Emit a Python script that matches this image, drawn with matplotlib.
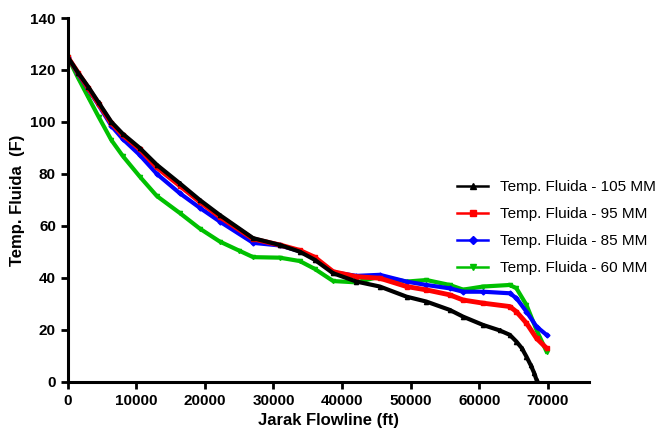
import matplotlib.pyplot as plt

# jarak (ft) dan temperatur fluida (F)
x_105 = [0, 1500, 3000, 4500, 6370, 8000, 10500, 13000, 16330, 19250, 22170,
         27030, 30920, 33830, 36000, 38700, 42100, 45500, 49400, 52300, 55700,
         57650, 60570, 63000, 64460, 65430, 66200, 66890, 67500, 68000, 68350]
t_105 = [125, 119, 113.5, 107.5, 100, 95.5, 90, 83.5, 76.4, 70, 64.2,
         55.3, 52.7, 50.1, 47, 41.8, 38.6, 36.7, 32.8, 30.9, 27.7,
         25.1, 21.9, 19.8, 18.1, 15.5, 13, 9.7, 6.5, 3.5, 0.8]

x_95 = [0, 1500, 3000, 4500, 6370, 8000, 10500, 13000, 16330, 19250, 22170,
        27030, 30920, 33830, 36000, 38700, 42100, 45500, 49400, 52300, 55700,
        57650, 60570, 64460, 65430, 66890, 68350, 69810]
t_95 = [125, 119, 113, 107, 99.5, 95, 89.5, 82.5, 75.5, 69.3, 63.5,
        55, 52.7, 50.6, 48, 42.4, 40.5, 39.9, 36.7, 35.4, 33.5,
        31.5, 30.3, 29, 27, 22.6, 16.8, 13]

x_85 = x_95
t_85 = [125, 118.5, 112.5, 106.5, 98.5, 93.5, 87.3, 80, 72.6, 67, 61.7,
        53.5, 52.5, 50.3, 47.5, 42.2, 40.8, 41.2, 38.6, 37.3, 36,
        34.7, 34.7, 34.1, 32.2, 27, 21.3, 18.1]

x_60 = [0, 1500, 3000, 4500, 6370, 8000, 10500, 13000, 16330, 19250, 22170,
        25000, 27030, 30920, 33830, 36000, 38700, 42100, 45500, 49400, 52300,
        55700, 57650, 60570, 64460, 65430, 66890, 68350, 69810]
t_60 = [125, 117, 109.5, 102, 93, 87, 79, 71.5, 65, 59, 54,
        50.5, 48, 47.8, 46.5, 43.5, 38.8, 38.3, 40.5, 38.6, 39.2,
        37.3, 35.5, 36.7, 37.3, 36, 29.6, 20, 11.7]

fig = plt.figure(figsize=(6.64, 4.34), dpi=100)
ax = fig.add_axes([0.102, 0.12, 0.785, 0.8385])

ax.plot(x_60, t_60, color="#00c000", lw=3, marker="v", ms=3,
        label="Temp. Fluida - 60 MM")
ax.plot(x_85, t_85, color="#0000ff", lw=3, marker="D", ms=2.5,
        label="Temp. Fluida - 85 MM")
ax.plot(x_95, t_95, color="#ff0000", lw=3.5, marker="s", ms=3,
        label="Temp. Fluida - 95 MM")
ax.plot(x_105, t_105, color="black", lw=3, marker="^", ms=3,
        label="Temp. Fluida - 105 MM")

ax.set_xlim(0, 76000)
ax.set_ylim(0, 140)
ax.set_xticks(range(0, 70001, 10000))
ax.set_yticks(range(0, 141, 20))

for s in ["top", "right"]:
    ax.spines[s].set_visible(False)
for s in ["left", "bottom"]:
    ax.spines[s].set_linewidth(2.2)
ax.tick_params(width=2, length=5, labelsize=11)
for lab in ax.get_xticklabels() + ax.get_yticklabels():
    lab.set_fontweight("bold")
    lab.set_family("Liberation Sans")

ax.set_xlabel("Jarak Flowline (ft)", fontsize=12, fontweight="bold",
              family="Liberation Sans")
ax.set_ylabel("Temp. Fluida  (F)", fontsize=12, fontweight="bold",
              family="Liberation Sans")

h, l = ax.get_legend_handles_labels()
leg = fig.legend(h[::-1], l[::-1], loc="upper left", bbox_to_anchor=(0.668, 0.617),
                 frameon=False, prop={"family": "Liberation Sans", "size": 11},
                 handlelength=2.0, labelspacing=0.85)
for line in leg.get_lines():
    line.set_linewidth(1.8)
    line.set_markersize(4)

fig.savefig("out.png", dpi=100)
